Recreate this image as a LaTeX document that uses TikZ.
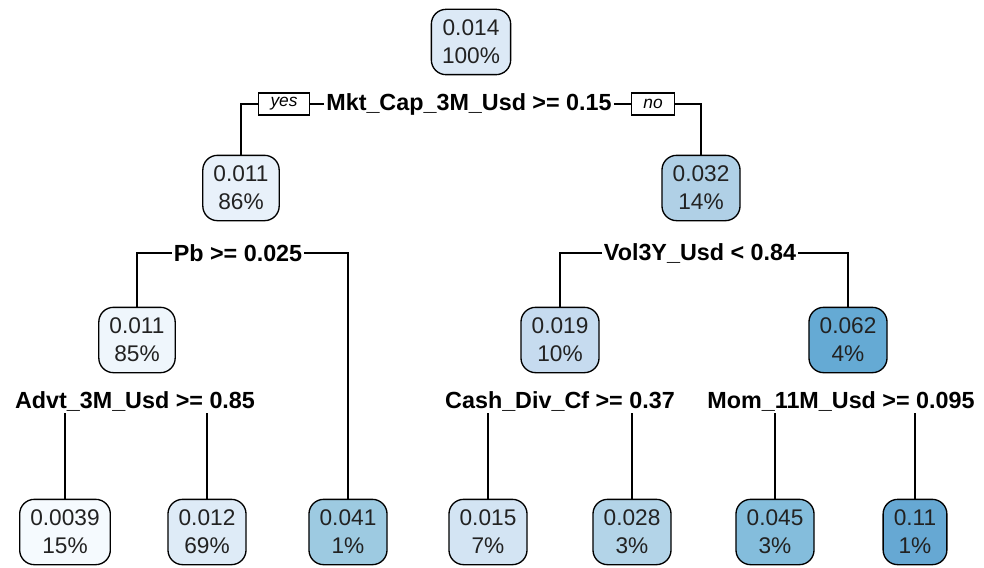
\documentclass[tikz,border=0pt]{standalone}
\usepackage{fontspec}
\setmainfont{Liberation Sans}
\usetikzlibrary{positioning}
\usetikzlibrary{calc}
\definecolor{fillroot}{HTML}{DCE9F6}
\definecolor{fillA}{HTML}{E8F1FA}
\definecolor{fillB}{HTML}{B0D0E6}
\definecolor{fillC}{HTML}{EFF6FC}
\definecolor{fillD}{HTML}{C6DBEF}
\definecolor{fillE}{HTML}{65AAD4}
\definecolor{fillF}{HTML}{F5FAFE}
\definecolor{fillG}{HTML}{DEEBF7}
\definecolor{fillH}{HTML}{9DCAE1}
\definecolor{fillI}{HTML}{D3E4F3}
\definecolor{fillJ}{HTML}{B3D4E8}
\definecolor{fillK}{HTML}{84BDDC}
\definecolor{fillL}{HTML}{66A8D3}
\definecolor{txt}{HTML}{222222}
\tikzset{%
    treenode/.style={draw, line width=1pt, rounded corners=11pt, align=center,
        inner xsep=8pt, minimum height=49pt, text=txt,
        font=\fontsize{17}{21}\selectfont},
    splitlbl/.style={inner sep=1.5pt, font=\bfseries\fontsize{17.5}{20}\selectfont},
    yesno/.style={draw, line width=0.8pt, inner xsep=9pt, inner ysep=1pt,
        minimum height=16.5pt,
        font=\itshape\fontsize{13}{15}\selectfont},
    branch/.style={line width=1pt},
}

\begin{document}
\begin{tikzpicture}[x=0.75pt,y=-0.75pt]
\useasboundingbox (0,0) rectangle (984,567);
% root and first split
\node (n1) [treenode, fill=fillroot] at (471,42) {0.014\\100\%};
\node (s1) [splitlbl] at (469,104) {Mkt\_Cap\_3M\_Usd >= 0.15};
\node (yes) [yesno] at (284,104) {yes};
\node (no) [yesno] at (653,104) {no};
% second level
\node (n2) [treenode, fill=fillA] at (241,188) {0.011\\86\%};
\node (n3) [treenode, fill=fillB] at (701,188) {0.032\\14\%};
\node (s2) [splitlbl] at (238,253) {Pb >= 0.025};
\node (s3) [splitlbl] at (700,253) {Vol3Y\_Usd < 0.84};
% third level
\node (n4) [treenode, fill=fillC] at (137,340) {0.011\\85\%};
\node (n5) [treenode, fill=fillD] at (560,340) {0.019\\10\%};
\node (n6) [treenode, fill=fillE] at (848,340) {0.062\\4\%};
\node (s4) [splitlbl] at (135,401) {Advt\_3M\_Usd >= 0.85};
\node (s5) [splitlbl] at (560,401) {Cash\_Div\_Cf >= 0.37};
\node (s6) [splitlbl] at (841,401) {Mom\_11M\_Usd >= 0.095};
% leaves
\node (l1) [treenode, fill=fillF] at (65,532) {0.0039\\15\%};
\node (l2) [treenode, fill=fillG] at (207,532) {0.012\\69\%};
\node (l3) [treenode, fill=fillH] at (348,532) {0.041\\1\%};
\node (l4) [treenode, fill=fillI] at (488,532) {0.015\\7\%};
\node (l5) [treenode, fill=fillJ] at (632,532) {0.028\\3\%};
\node (l6) [treenode, fill=fillK] at (775,532) {0.045\\3\%};
\node (l7) [treenode, fill=fillL] at (915,532) {0.11\\1\%};
% branches
\draw [branch] (s1.west) -- (yes.east);
\draw [branch] (yes.west) -| (n2.north);
\draw [branch] (s1.east) -- (no.west);
\draw [branch] (no.east) -| (n3.north);
\draw [branch] (s2.west) -| (n4.north);
\draw [branch] (s2.east) -| (l3.north);
\draw [branch] (s3.west) -| (n5.north);
\draw [branch] (s3.east) -| (n6.north);
\draw [branch] (s4.south -| l1.north) -- (l1.north);
\draw [branch] (s4.south -| l2.north) -- (l2.north);
\draw [branch] (s5.south -| l4.north) -- (l4.north);
\draw [branch] (s5.south -| l5.north) -- (l5.north);
\draw [branch] (s6.south -| l6.north) -- (l6.north);
\draw [branch] (s6.south -| l7.north) -- (l7.north);
\end{tikzpicture}
\end{document}
